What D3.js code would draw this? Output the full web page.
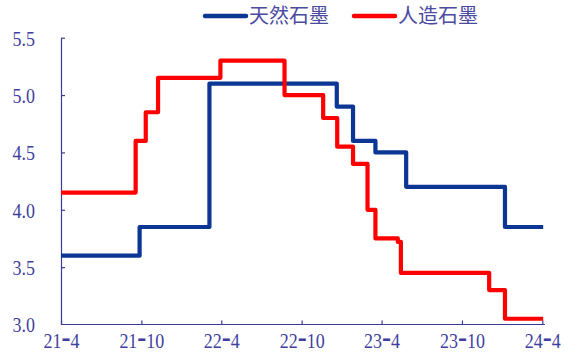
<!DOCTYPE html>
<html>
<head>
<meta charset="utf-8">
<script src="https://cdn.jsdelivr.net/npm/d3@7"></script>
<style>
  html, body { margin: 0; padding: 0; background: #fff; }
  svg { display: block; }
</style>
</head>
<body>
<svg id="chart" width="565" height="356"></svg>
<script>
// Price steps: each entry is the date a new price level starts.
const naturalDates  = ["2021-04-01","2021-09-27","2022-03-05","2022-12-20","2023-01-26","2023-03-18","2023-05-27","2024-01-07","2024-04-03"];
const naturalValues = [3.6, 3.85, 5.1, 4.9, 4.6, 4.5, 4.2, 3.85, 3.85];

const synthDates  = ["2021-04-01","2021-09-18","2021-10-11","2021-11-08","2022-03-30","2022-08-23","2022-11-19","2022-12-21","2023-01-26","2023-02-28","2023-03-18","2023-05-08","2023-05-15","2023-12-02","2024-01-07","2024-04-03"];
const synthValues = [4.15, 4.6, 4.85, 5.15, 5.3, 5.0, 4.8, 4.55, 4.4, 4.0, 3.75, 3.72, 3.45, 3.3, 3.05, 3.05];

const seriesNames  = ["天然石墨", "人造石墨"];
const seriesColors = ["#0b3694", "#ff0000"];

const xTickDates  = ["2021-04-01","2021-10-01","2022-04-01","2022-10-01","2023-04-01","2023-10-01","2024-04-01"];
const xTickLabels = ["21-4","21-10","22-4","22-10","23-4","23-10","24-4"];
const yTicks = [3.0, 3.5, 4.0, 4.5, 5.0, 5.5];

const parse = d3.utcParse("%Y-%m-%d");
const axisColor = "#3b3b9b";
const labelColor = "#3f3f9f";
const serifFont = '"Liberation Serif", "Times New Roman", serif';
const textStretch = 1.22;   // axis labels are drawn slightly tall

const svg = d3.select("#chart");

const x = d3.scaleUtc()
  .domain([parse("2021-04-01"), parse("2024-04-01")])
  .range([61, 542.3]);
const y = d3.scaleLinear()
  .domain([3.0, 5.5])
  .range([324.5, 37.7]);

// Axes
const xAxis = d3.axisBottom(x)
  .tickValues(xTickDates.map(parse))
  .tickFormat((d, i) => xTickLabels[i])
  .tickSizeInner(-4)
  .tickSizeOuter(0);

const gx = svg.append("g")
  .attr("transform", `translate(0,${y(3.0)})`)
  .call(xAxis);
gx.select(".domain").attr("d", `M${x.range()[0]},0H545`);

// Split each date label so the separator can be drawn wider.
gx.selectAll(".tick text")
  .attr("y", 0)
  .attr("dy", null)
  .attr("transform", `translate(0,23.8) scale(1,${textStretch})`)
  .each(function () {
    const t = d3.select(this);
    const parts = t.text().split("-");
    t.text(null);
    t.append("tspan").text(parts[0]);
    t.append("tspan").style("font-size", "27px").text("-");
    t.append("tspan").text(parts[1]);
  });

const yAxis = d3.axisLeft(y)
  .tickValues(yTicks)
  .tickFormat(d3.format(".1f"))
  .tickSizeInner(-4)
  .tickSizeOuter(0)
  .tickPadding(26);

const gy = svg.append("g")
  .attr("transform", `translate(${x.range()[0]},0)`)
  .call(yAxis);

gy.selectAll(".tick text")
  .attr("dy", null)
  .attr("y", 0)
  .attr("transform", `translate(0,7.3) scale(1,${textStretch})`);

svg.selectAll(".domain, .tick line")
  .attr("stroke", axisColor)
  .attr("stroke-width", 1.2);
svg.selectAll(".tick text")
  .attr("fill", labelColor)
  .style("font-family", serifFont)
  .style("font-size", "18px");
gy.selectAll(".tick line").filter(d => d === 3.0).remove();

// Step lines
const line = d3.line()
  .curve(d3.curveStepAfter)
  .x(d => x(d.date))
  .y(d => y(d.value));

const series = [
  naturalDates.map((d, i) => ({ date: parse(d), value: naturalValues[i] })),
  synthDates.map((d, i) => ({ date: parse(d), value: synthValues[i] }))
];

series.forEach((s, i) => {
  svg.append("path")
    .datum(s)
    .attr("d", line)
    .attr("fill", "none")
    .attr("stroke", seriesColors[i])
    .attr("stroke-width", 4.2)
    .attr("stroke-linejoin", "round")
    .attr("stroke-linecap", "butt");
});

// Legend
const legendX = [205, 354];
seriesNames.forEach((name, i) => {
  const g = svg.append("g").attr("transform", `translate(${legendX[i]},16)`);
  g.append("line")
    .attr("x1", 0).attr("x2", 41)
    .attr("stroke", seriesColors[i])
    .attr("stroke-width", 4.5)
    .attr("stroke-linecap", "round");
  g.append("text")
    .attr("x", 44)
    .attr("y", 7)
    .attr("fill", "#4a4aa0")
    .style("font-family", '"Noto Sans CJK SC", sans-serif')
    .style("font-size", "20px")
    .text(name);
});
</script>
</body>
</html>
